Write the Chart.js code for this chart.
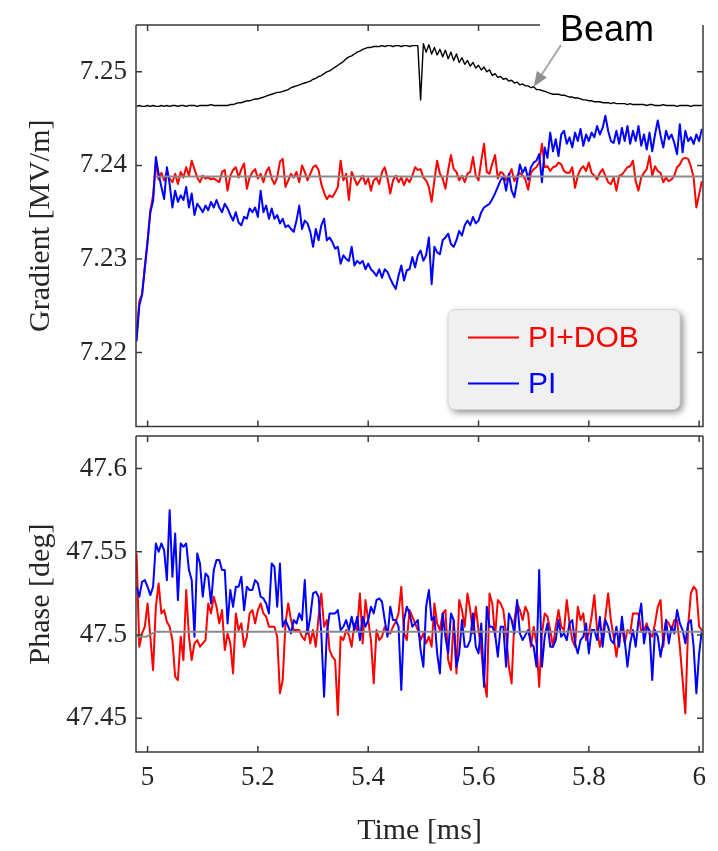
<!DOCTYPE html>
<html>
<head>
<meta charset="utf-8">
<script src="https://cdn.jsdelivr.net/npm/chart.js@4.4.1/dist/chart.umd.min.js"></script>
<style>
  html, body { margin: 0; padding: 0; background: #fff; }
  #wrap { position: relative; width: 718px; height: 851px; }
  canvas { position: absolute; left: 0; }
  #cTop { top: 0; }
  #cBot { top: 432px; }
</style>
</head>
<body>
<div id="wrap">
  <canvas id="cTop" width="718" height="432"></canvas>
  <canvas id="cBot" width="718" height="419"></canvas>
</div>
<script>
// sample clock of the recorded traces [ms]
const timeStart = 4.98;
const timeStep = 0.005;

const timeTicks = [5, 5.2, 5.4, 5.6, 5.8, 6];
const timeTickLabels = ['5', '5.2', '5.4', '5.6', '5.8', '6'];
const gradTicks = [7.22, 7.23, 7.24, 7.25];
const gradTickLabels = ['7.22', '7.23', '7.24', '7.25'];
const phaseTicks = [47.45, 47.5, 47.55, 47.6];
const phaseTickLabels = ['47.45', '47.5', '47.55', '47.6'];
const legendNames = ['PI+DOB', 'PI'];

// gradient, PI+DOB controller [MV/m]
const gradPIDOB = [
  7.2220, 7.2255, 7.2262, 7.2292, 7.2320, 7.2352, 7.2368, 7.2402, 7.2385, 7.2392,
  7.2384, 7.2393, 7.2386, 7.2382, 7.2391, 7.2380, 7.2393, 7.2387, 7.2398, 7.2389,
  7.2405, 7.2396, 7.2387, 7.2382, 7.2389, 7.2386, 7.2387, 7.2385, 7.2386, 7.2384,
  7.2382, 7.2393, 7.2395, 7.2373, 7.2389, 7.2395, 7.2398, 7.2387, 7.2396, 7.2402,
  7.2375, 7.2387, 7.2393, 7.2396, 7.2386, 7.2391, 7.2382, 7.2393, 7.2398, 7.2386,
  7.2380, 7.2387, 7.2404, 7.2407, 7.2377, 7.2384, 7.2391, 7.2387, 7.2393, 7.2382,
  7.2400, 7.2393, 7.2384, 7.2391, 7.2398, 7.2400, 7.2395, 7.2380, 7.2371, 7.2364,
  7.2368, 7.2366, 7.2371, 7.2377, 7.2405, 7.2384, 7.2391, 7.2363, 7.2393, 7.2386,
  7.2379, 7.2384, 7.2389, 7.2380, 7.2386, 7.2373, 7.2384, 7.2387, 7.2380, 7.2393,
  7.2398, 7.2386, 7.2370, 7.2384, 7.2389, 7.2382, 7.2387, 7.2379, 7.2386, 7.2382,
  7.2389, 7.2398, 7.2395, 7.2396, 7.2387, 7.2384, 7.2377, 7.2361, 7.2384, 7.2405,
  7.2391, 7.2386, 7.2375, 7.2395, 7.2411, 7.2396, 7.2393, 7.2384, 7.2389, 7.2382,
  7.2391, 7.2393, 7.2409, 7.2389, 7.2384, 7.2405, 7.2423, 7.2393, 7.2391, 7.2402,
  7.2411, 7.2386, 7.2393, 7.2391, 7.2384, 7.2389, 7.2396, 7.2383, 7.2389, 7.2392,
  7.2389, 7.2385, 7.2374, 7.2392, 7.2396, 7.2398, 7.2403, 7.2423, 7.2398, 7.2399,
  7.2394, 7.2398, 7.2399, 7.2403, 7.2401, 7.2394, 7.2392, 7.2392, 7.2398, 7.2376,
  7.2389, 7.2396, 7.2399, 7.2394, 7.2403, 7.2392, 7.2389, 7.2385, 7.2392, 7.2396,
  7.2389, 7.2382, 7.2380, 7.2387, 7.2373, 7.2389, 7.2390, 7.2394, 7.2398, 7.2399,
  7.2405, 7.2383, 7.2373, 7.2387, 7.2392, 7.2396, 7.2410, 7.2389, 7.2399, 7.2394,
  7.2392, 7.2382, 7.2387, 7.2383, 7.2385, 7.2389, 7.2398, 7.2401, 7.2407, 7.2408,
  7.2407, 7.2399, 7.2387, 7.2355, 7.2369, 7.2383
];

// gradient, PI controller [MV/m]
const gradPI = [
  7.2212, 7.2250, 7.2262, 7.2290, 7.2318, 7.2350, 7.2362, 7.2409, 7.2391, 7.2377,
  7.2364, 7.2398, 7.2380, 7.2355, 7.2373, 7.2361, 7.2368, 7.2363, 7.2377, 7.2355,
  7.2370, 7.2347, 7.2359, 7.2355, 7.2350, 7.2357, 7.2352, 7.2361, 7.2355, 7.2363,
  7.2355, 7.2350, 7.2359, 7.2354, 7.2347, 7.2341, 7.2350, 7.2339, 7.2336, 7.2345,
  7.2343, 7.2354, 7.2350, 7.2355, 7.2345, 7.2373, 7.2350, 7.2357, 7.2343, 7.2354,
  7.2343, 7.2347, 7.2338, 7.2343, 7.2334, 7.2336, 7.2332, 7.2329, 7.2341, 7.2357,
  7.2332, 7.2341, 7.2338, 7.2329, 7.2313, 7.2332, 7.2320, 7.2336, 7.2343, 7.2320,
  7.2323, 7.2318, 7.2311, 7.2313, 7.2295, 7.2304, 7.2300, 7.2298, 7.2313, 7.2293,
  7.2298, 7.2295, 7.2298, 7.2289, 7.2295, 7.2289, 7.2286, 7.2282, 7.2289, 7.2280,
  7.2289, 7.2286, 7.2279, 7.2273, 7.2268, 7.2282, 7.2293, 7.2277, 7.2288, 7.2289,
  7.2302, 7.2291, 7.2304, 7.2309, 7.2298, 7.2304, 7.2323, 7.2273, 7.2313, 7.2307,
  7.2305, 7.2320, 7.2323, 7.2327, 7.2316, 7.2313, 7.2320, 7.2330, 7.2325, 7.2336,
  7.2341, 7.2336, 7.2345, 7.2338, 7.2341, 7.2350, 7.2355, 7.2357, 7.2359, 7.2364,
  7.2370, 7.2377, 7.2384, 7.2388, 7.2373, 7.2391, 7.2373, 7.2366, 7.2383, 7.2401,
  7.2392, 7.2398, 7.2385, 7.2398, 7.2403, 7.2405, 7.2412, 7.2382, 7.2419, 7.2408,
  7.2435, 7.2415, 7.2428, 7.2410, 7.2433, 7.2437, 7.2423, 7.2430, 7.2419, 7.2435,
  7.2426, 7.2439, 7.2421, 7.2433, 7.2426, 7.2435, 7.2430, 7.2442, 7.2433, 7.2440,
  7.2453, 7.2437, 7.2426, 7.2424, 7.2437, 7.2423, 7.2440, 7.2426, 7.2442, 7.2423,
  7.2437, 7.2426, 7.2442, 7.2421, 7.2433, 7.2417, 7.2435, 7.2415, 7.2433, 7.2448,
  7.2432, 7.2419, 7.2437, 7.2428, 7.2433, 7.2424, 7.2412, 7.2444, 7.2414, 7.2437,
  7.2426, 7.2430, 7.2423, 7.2433, 7.2426, 7.2439
];

// beam current trace, drawn on the gradient axis
const beamShape = [
  7.2463, 7.2464, 7.2463, 7.2463, 7.2464, 7.2463, 7.2464, 7.2463, 7.2463, 7.2464,
  7.2463, 7.2464, 7.2463, 7.2464, 7.2464, 7.2463, 7.2464, 7.2464, 7.2463, 7.2464,
  7.2464, 7.2464, 7.2463, 7.2464, 7.2464, 7.2464, 7.2464, 7.2465, 7.2464, 7.2464,
  7.2464, 7.2464, 7.2464, 7.2464, 7.2465, 7.2465, 7.2466, 7.2467, 7.2467, 7.2468,
  7.2469, 7.2469, 7.2470, 7.2471, 7.2471, 7.2472, 7.2473, 7.2474, 7.2475, 7.2476,
  7.2477, 7.2478, 7.2478, 7.2479, 7.2480, 7.2481, 7.2483, 7.2484, 7.2485, 7.2486,
  7.2487, 7.2488, 7.2489, 7.2490, 7.2492, 7.2493, 7.2495, 7.2496, 7.2498, 7.2500,
  7.2501, 7.2503, 7.2505, 7.2507, 7.2509, 7.2511, 7.2514, 7.2516, 7.2517, 7.2519,
  7.2521, 7.2522, 7.2524, 7.2525, 7.2526, 7.2526, 7.2527, 7.2527, 7.2527, 7.2528,
  7.2527, 7.2528, 7.2528, 7.2527, 7.2528, 7.2528, 7.2527, 7.2528, 7.2528, 7.2527,
  7.2528, 7.2528, 7.2528, 7.2470, 7.2530, 7.2521, 7.2529, 7.2519, 7.2526, 7.2518,
  7.2524, 7.2516, 7.2523, 7.2514, 7.2521, 7.2512, 7.2519, 7.2510, 7.2515, 7.2508,
  7.2512, 7.2506, 7.2510, 7.2504, 7.2507, 7.2502, 7.2505, 7.2500, 7.2502, 7.2496,
  7.2498, 7.2494, 7.2495, 7.2492, 7.2493, 7.2490, 7.2491, 7.2488, 7.2489, 7.2486,
  7.2487, 7.2485, 7.2485, 7.2483, 7.2484, 7.2481, 7.2481, 7.2480, 7.2479, 7.2478,
  7.2477, 7.2476, 7.2476, 7.2476, 7.2475, 7.2475, 7.2474, 7.2473, 7.2473, 7.2472,
  7.2472, 7.2471, 7.2470, 7.2470, 7.2469, 7.2469, 7.2468, 7.2468, 7.2468, 7.2467,
  7.2467, 7.2467, 7.2466, 7.2467, 7.2466, 7.2466, 7.2466, 7.2466, 7.2465, 7.2466,
  7.2465, 7.2465, 7.2465, 7.2465, 7.2465, 7.2464, 7.2465, 7.2465, 7.2464, 7.2464,
  7.2464, 7.2465, 7.2464, 7.2464, 7.2464, 7.2464, 7.2463, 7.2464, 7.2464, 7.2464,
  7.2464, 7.2463, 7.2464, 7.2464, 7.2464, 7.2464
];

// gradient set point
const gradRefTime = [5.015, 6.01];
const gradRef = [7.2388, 7.2388];

// phase, PI+DOB controller [deg]
const phasePIDOB = [
  47.549, 47.493, 47.501, 47.505, 47.519, 47.499, 47.479, 47.517, 47.531, 47.513,
  47.515, 47.508, 47.505, 47.497, 47.475, 47.473, 47.499, 47.485, 47.527, 47.499,
  47.485, 47.495, 47.497, 47.493, 47.495, 47.497, 47.519, 47.513, 47.523, 47.517,
  47.507, 47.515, 47.491, 47.501, 47.495, 47.477, 47.513, 47.503, 47.507, 47.493,
  47.499, 47.513, 47.515, 47.507, 47.515, 47.519, 47.513, 47.511, 47.505, 47.505,
  47.505, 47.499, 47.465, 47.473, 47.507, 47.519, 47.509, 47.503, 47.503, 47.503,
  47.499, 47.497, 47.505, 47.495, 47.503, 47.493, 47.511, 47.525, 47.505, 47.509,
  47.491, 47.487, 47.485, 47.452, 47.499, 47.497, 47.503, 47.500, 47.493, 47.507,
  47.503, 47.525, 47.495, 47.521, 47.509, 47.497, 47.471, 47.503, 47.497, 47.499,
  47.505, 47.502, 47.501, 47.505, 47.508, 47.513, 47.529, 47.501, 47.497, 47.515,
  47.511, 47.507, 47.503, 47.497, 47.501, 47.495, 47.499, 47.493, 47.519, 47.507,
  47.503, 47.513, 47.515, 47.485, 47.479, 47.509, 47.477, 47.521, 47.515, 47.505,
  47.525, 47.515, 47.501, 47.517, 47.503, 47.491, 47.473, 47.463, 47.525, 47.519,
  47.499, 47.521, 47.519, 47.515, 47.501, 47.481, 47.471, 47.509, 47.519, 47.515,
  47.509, 47.517, 47.513, 47.493, 47.505, 47.495, 47.469, 47.501, 47.513, 47.511,
  47.503, 47.493, 47.505, 47.515, 47.505, 47.503, 47.521, 47.507, 47.497, 47.493,
  47.517, 47.509, 47.513, 47.497, 47.501, 47.511, 47.524, 47.503, 47.493, 47.501,
  47.511, 47.525, 47.509, 47.499, 47.487, 47.499, 47.505, 47.495, 47.503, 47.501,
  47.513, 47.513, 47.513, 47.502, 47.503, 47.507, 47.501, 47.499, 47.507, 47.517,
  47.521, 47.493, 47.509, 47.507, 47.503, 47.509, 47.509, 47.493, 47.473, 47.453,
  47.505, 47.525, 47.529, 47.527, 47.505, 47.503
];

// phase, PI controller [deg]
const phasePI = [
  47.529, 47.523, 47.532, 47.533, 47.529, 47.524, 47.529, 47.555, 47.550, 47.555,
  47.551, 47.533, 47.575, 47.535, 47.561, 47.521, 47.555, 47.553, 47.555, 47.539,
  47.533, 47.499, 47.549, 47.543, 47.523, 47.537, 47.535, 47.519, 47.539, 47.545,
  47.545, 47.539, 47.539, 47.507, 47.527, 47.517, 47.529, 47.529, 47.535, 47.515,
  47.529, 47.527, 47.527, 47.533, 47.531, 47.523, 47.522, 47.519, 47.513, 47.543,
  47.541, 47.517, 47.543, 47.505, 47.509, 47.505, 47.501, 47.509, 47.507, 47.513,
  47.509, 47.533, 47.501, 47.511, 47.525, 47.526, 47.523, 47.501, 47.463, 47.501,
  47.513, 47.513, 47.513, 47.515, 47.503, 47.505, 47.509, 47.503, 47.511, 47.503,
  47.511, 47.497, 47.511, 47.505, 47.509, 47.517, 47.513, 47.521, 47.522, 47.520,
  47.509, 47.499, 47.517, 47.509, 47.509, 47.505, 47.467, 47.509, 47.517, 47.513,
  47.505, 47.507, 47.509, 47.491, 47.481, 47.517, 47.527, 47.509, 47.511, 47.489,
  47.477, 47.513, 47.499, 47.489, 47.513, 47.509, 47.481, 47.489, 47.509, 47.493,
  47.493, 47.497, 47.513, 47.493, 47.489, 47.507, 47.469, 47.517, 47.505, 47.505,
  47.501, 47.487, 47.505, 47.505, 47.481, 47.513, 47.509, 47.501, 47.521, 47.501,
  47.497, 47.500, 47.503, 47.495, 47.493, 47.481, 47.539, 47.481, 47.499, 47.507,
  47.493, 47.493, 47.497, 47.509, 47.499, 47.501, 47.497, 47.507, 47.509, 47.495,
  47.489, 47.497, 47.499, 47.507, 47.489, 47.503, 47.503, 47.497, 47.511, 47.493,
  47.509, 47.505, 47.497, 47.495, 47.505, 47.493, 47.511, 47.497, 47.481, 47.495,
  47.503, 47.493, 47.509, 47.519, 47.495, 47.505, 47.503, 47.473, 47.503, 47.499,
  47.487, 47.497, 47.509, 47.495, 47.505, 47.501, 47.515, 47.507, 47.503, 47.495,
  47.507, 47.509, 47.493, 47.465, 47.489, 47.503
];

// phase set point
const phaseRefTime = [4.98, 4.998, 5.015, 6.01];
const phaseRef = [47.499, 47.499, 47.502, 47.502];

const RED = '#ff0000';
const BLUE = '#0000ff';
const TXT = '#262626';
const SERIF = "'Liberation Serif', 'Times New Roman', serif";
const SANS = "'Liberation Sans', Arial, sans-serif";

function sampled(vals) {
  return vals.map((v, i) => ({ x: timeStart + i * timeStep, y: v }));
}
function paired(ts, vals) {
  return ts.map((t, i) => ({ x: t, y: vals[i] }));
}

function line(label, data, color, width, order) {
  return {
    label: label, data: data, borderColor: color, borderWidth: width,
    pointRadius: 0, tension: 0, borderJoinStyle: 'round', order: order
  };
}

// no extra room for labels sticking out at the ends of an axis
function noEndPadding(s) {
  s.paddingTop = 0;
  s.paddingBottom = 0;
  s.paddingLeft = 0;
  s.paddingRight = 0;
}

// matlab style box with inward ticks
const boxPlugin = {
  id: 'mbox',
  afterDatasetsDraw(chart, args, opts) {
    const { ctx, chartArea: a, scales } = chart;
    const gap = opts.gapFrom || a.right + 10;
    ctx.save();
    ctx.strokeStyle = '#3a3a3a';
    ctx.lineWidth = 1.5;
    ctx.beginPath();
    ctx.moveTo(a.left, a.top);
    ctx.lineTo(Math.min(gap, a.right), a.top);
    ctx.moveTo(a.right, a.top);
    ctx.lineTo(a.right, a.bottom);
    ctx.lineTo(a.left, a.bottom);
    ctx.lineTo(a.left, a.top);
    timeTicks.forEach(t => {
      const px = scales.x.getPixelForValue(t);
      ctx.moveTo(px, a.bottom);
      ctx.lineTo(px, a.bottom - 6);
      if (px < gap) {
        ctx.moveTo(px, a.top);
        ctx.lineTo(px, a.top + 6);
      }
    });
    opts.yTicks.forEach(v => {
      const py = scales.y.getPixelForValue(v);
      ctx.moveTo(a.left, py);
      ctx.lineTo(a.left + 6, py);
      ctx.moveTo(a.right, py);
      ctx.lineTo(a.right - 6, py);
    });
    ctx.stroke();
    ctx.restore();
  }
};

// beam label, arrow and legend of the upper panel
const annotPlugin = {
  id: 'annot',
  afterDraw(chart) {
    const { ctx, chartArea: a, scales: { x, y } } = chart;
    ctx.save();
    // Beam label
    ctx.font = '36px ' + SANS;
    ctx.fillStyle = '#000';
    ctx.textBaseline = 'alphabetic';
    ctx.textAlign = 'left';
    ctx.fillText('Beam', a.right - 143, 41);

    // arrow pointing at the beam trace
    const tipX = x.getPixelForValue(5.70);
    const tipY = y.getPixelForValue(beamShape[144]);
    const tailX = a.right - 142, tailY = 45;
    const ang = Math.atan2(tipY - tailY, tipX - tailX);
    const hl = 15, hw = 6;
    const bx = tipX - hl * Math.cos(ang), by = tipY - hl * Math.sin(ang);
    ctx.strokeStyle = '#a8a8a8';
    ctx.lineWidth = 2;
    ctx.beginPath();
    ctx.moveTo(tailX, tailY);
    ctx.lineTo(bx, by);
    ctx.stroke();
    ctx.fillStyle = '#8f8f8f';
    ctx.beginPath();
    ctx.moveTo(tipX, tipY);
    ctx.lineTo(bx + hw * Math.sin(ang), by - hw * Math.cos(ang));
    ctx.lineTo(bx - hw * Math.sin(ang), by + hw * Math.cos(ang));
    ctx.closePath();
    ctx.fill();

    // legend box
    const lx = a.right - 255, ly = a.bottom - 117, lw = 232, lh = 100;
    ctx.save();
    ctx.shadowColor = 'rgba(0,0,0,0.45)';
    ctx.shadowBlur = 7;
    ctx.shadowOffsetX = 3;
    ctx.shadowOffsetY = 3;
    ctx.fillStyle = '#f0f0f0';
    ctx.beginPath();
    ctx.roundRect(lx, ly, lw, lh, 7);
    ctx.fill();
    ctx.restore();
    ctx.strokeStyle = '#d4d4d4';
    ctx.lineWidth = 1;
    ctx.beginPath();
    ctx.roundRect(lx, ly, lw, lh, 7);
    ctx.stroke();

    const colors = [RED, BLUE];
    ctx.font = '30px ' + SANS;
    ctx.textBaseline = 'middle';
    legendNames.forEach((name, i) => {
      const yy = ly + 28 + i * 46;
      ctx.strokeStyle = colors[i];
      ctx.lineWidth = 2;
      ctx.beginPath();
      ctx.moveTo(lx + 20, yy);
      ctx.lineTo(lx + 71, yy);
      ctx.stroke();
      ctx.fillStyle = colors[i];
      ctx.fillText(name, lx + 80, yy + 1);
    });
    ctx.restore();
  }
};

function timeScale(showLabels) {
  return {
    type: 'linear',
    min: 4.979,
    max: 6.007,
    afterBuildTicks: s => { s.ticks = timeTicks.map(v => ({ value: v })); },
    afterFit: s => { s.height = showLabels ? 99 : 5.5; noEndPadding(s); },
    grid: { display: false, drawTicks: false },
    border: { display: false },
    ticks: {
      display: showLabels, padding: 10, color: TXT, autoSkip: false, maxRotation: 0,
      font: { family: SERIF, size: 27 },
      callback: (v, i) => timeTickLabels[i]
    },
    title: {
      display: showLabels, text: 'Time [ms]', color: TXT,
      font: { family: SERIF, size: 30 }, padding: { top: 0, bottom: 2 }
    }
  };
}

function valueScale(min, max, ticks, labels, title) {
  return {
    type: 'linear',
    min: min,
    max: max,
    afterBuildTicks: s => { s.ticks = ticks.map(v => ({ value: v })); },
    afterFit: s => { s.width = 136; noEndPadding(s); },
    grid: { display: false, drawTicks: false },
    border: { display: false },
    ticks: {
      padding: 9, color: TXT, autoSkip: false,
      font: { family: SERIF, size: 27 },
      callback: (v, i) => labels[i]
    },
    title: {
      display: true, text: title, color: TXT,
      font: { family: SERIF, size: 30 }, padding: { top: 23, bottom: 0 }
    }
  };
}

new Chart(document.getElementById('cTop').getContext('2d'), {
  type: 'line',
  data: {
    datasets: [
      line('set point', paired(gradRefTime, gradRef), '#8a8a8a', 2, 0),
      line('PI', sampled(gradPI), BLUE, 2, 1),
      line('PI+DOB', sampled(gradPIDOB), RED, 2, 2),
      line('Beam', sampled(beamShape), '#000000', 1.4, 3)
    ]
  },
  options: {
    responsive: false,
    animation: false,
    layout: { padding: { top: 25, right: 15, left: 0, bottom: 0 } },
    scales: {
      x: timeScale(false),
      y: valueScale(7.2121, 7.255, gradTicks, gradTickLabels, 'Gradient [MV/m]')
    },
    plugins: {
      legend: { display: false },
      tooltip: { enabled: false },
      mbox: { yTicks: gradTicks, gapFrom: 540 }
    }
  },
  plugins: [boxPlugin, annotPlugin]
});

new Chart(document.getElementById('cBot').getContext('2d'), {
  type: 'line',
  data: {
    datasets: [
      line('set point', paired(phaseRefTime, phaseRef), '#8a8a8a', 2, 0),
      line('PI', sampled(phasePI), BLUE, 2, 1),
      line('PI+DOB', sampled(phasePIDOB), RED, 2, 2)
    ]
  },
  options: {
    responsive: false,
    animation: false,
    layout: { padding: { top: 4, right: 15, left: 0, bottom: 0 } },
    scales: {
      x: timeScale(true),
      y: valueScale(47.4298, 47.6195, phaseTicks, phaseTickLabels, 'Phase [deg]')
    },
    plugins: {
      legend: { display: false },
      tooltip: { enabled: false },
      mbox: { yTicks: phaseTicks }
    }
  },
  plugins: [boxPlugin]
});
</script>
</body>
</html>
